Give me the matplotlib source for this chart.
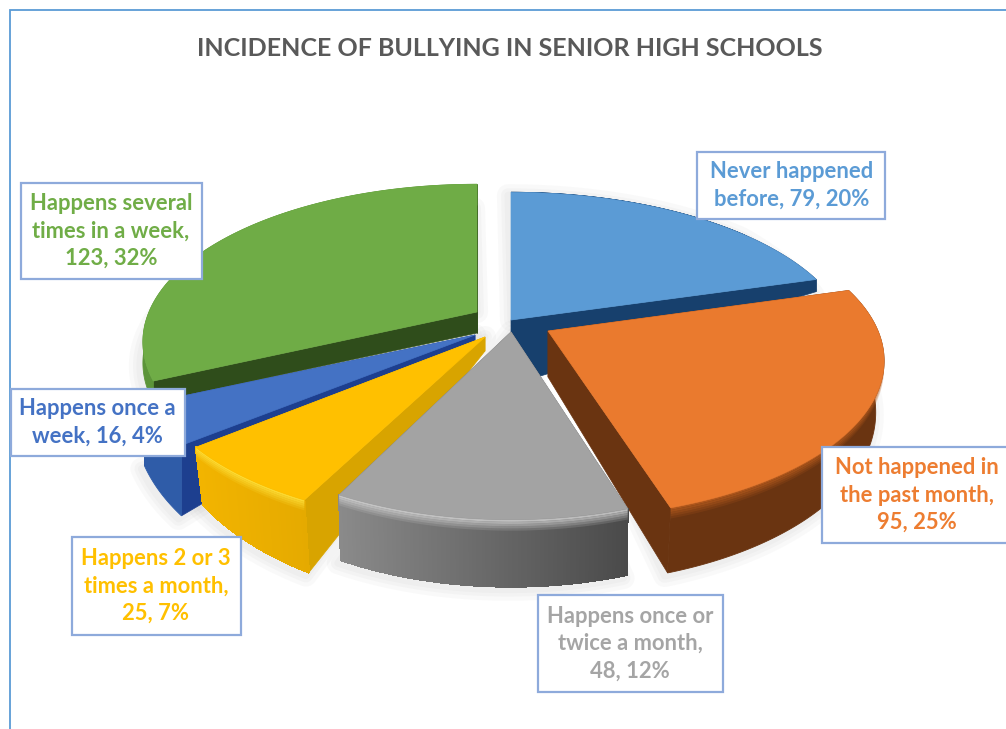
import numpy as np
import matplotlib
matplotlib.use("Agg")
import matplotlib.pyplot as plt
from matplotlib.colors import to_rgb
from matplotlib.patches import Polygon, Rectangle

# Survey results, in clockwise order from twelve o'clock
categories = ["Never happened before", "Not happened in the past month",
              "Happens once or twice a month", "Happens 2 or 3 times a month",
              "Happens once a week", "Happens several times in a week"]
counts = [79, 95, 48, 25, 16, 123]
percents = [20, 25, 12, 7, 4, 32]
label_templates = ["Never happened\nbefore, {}, {}%",
                   "Not happened in\nthe past month,\n{}, {}%",
                   "Happens once or\ntwice a month,\n{}, {}%",
                   "Happens 2 or 3\ntimes a month,\n{}, {}%",
                   "Happens once a\nweek, {}, {}%",
                   "Happens several\ntimes in a week,\n{}, {}%"]
title = "INCIDENCE OF BULLYING IN SENIOR HIGH SCHOOLS"

plt.rcParams["font.family"] = ["Lato", "DejaVu Sans"]

# Per-slice styling: exploded apex, horizontal radius, wall depth terms
styles = [
    dict(apex=(511, 320), a=335, d0=22, d1=35, apex_depth=65, taper=1.0,
         top="#5b9bd5", side="#17406d", wall=("#17406d", "#17406d"),
         rim=None, text="#5b9bd5"),
    dict(apex=(548, 331), a=330, d0=48, d1=18, apex_depth=46, taper=0.975,
         top="#ea7a2e", side="#6a3411", wall=("#6a3411", "#6a3411"),
         rim="#b95c1d", text="#ed7d31"),
    dict(apex=(511, 332), a=314, d0=50, d1=17, apex_depth=50, taper=0.99,
         top="#a3a3a3", side="#666666", wall=("#8a8a8a", "#4a4a4a"),
         rim="#d0d0d0", text="#a5a5a5"),
    dict(apex=(485, 337), a=330, d0=20, d1=59, apex_depth=14, taper=0.975,
         top="#ffc000", side="#d8a400", wall=("#f2b400", "#e5aa00"),
         rim="#ffe23c", text="#ffc000"),
    dict(apex=(475, 335), a=335, d0=45, d1=40, apex_depth=8, taper=1.0,
         top="#4472c4", side="#1d3f8f", wall=("#2f5ca8", "#2f5ca8"),
         rim=None, text="#4472c4"),
    dict(apex=(477, 312), a=328, d0=21, d1=0, apex_depth=21, taper=1.0,
         top="#6fac46", side="#2f4d1b", wall=("#5c9439", "#5c9439"),
         rim=None, text="#70ad47"),
]
label_boxes = [(697, 152, 885, 219), (822, 447, 1012, 543), (538, 595, 723, 692),
               (72, 537, 241, 635), (11, 389, 185, 456), (21, 183, 202, 279)]
label_centers = [(792, 185.5), (917, 495), (630, 643.5),
                 (156, 586), (97, 422.5), (111, 231)]
draw_order = [5, 0, 4, 1, 3, 2]

B, K = 152.0, 0.19
fractions = np.array(counts, float) / sum(counts)
edges = np.concatenate([[0], np.cumsum(fractions)]) * 2 * np.pi

fig = plt.figure(figsize=(10.06, 7.29), dpi=100)
ax = fig.add_axes([0, 0, 1, 1])
ax.set_xlim(0, 1006)
ax.set_ylim(729, 0)
ax.axis("off")


def rim_point(style, theta):
    """Project a point on a slice's rim onto the tilted pie plane."""
    x, y = np.sin(theta), -np.cos(theta)
    w = 1 - K * y
    return style["apex"][0] + x * style["a"] / w, style["apex"][1] + y * B / w, y


def lower(style, px, py, y):
    """Matching point on the underside of the slice."""
    depth = np.maximum(style["d0"] + style["d1"] * y, 0)
    return style["apex"][0] + (px - style["apex"][0]) * style["taper"], py + depth


def mix(c1, c2, t):
    return tuple((1 - t) * np.array(to_rgb(c1)) + t * np.array(to_rgb(c2)))


# Soft drop shadow under the whole pie
for i in range(6):
    st = styles[i]
    th = np.linspace(edges[i], edges[i + 1], 80)
    px, py, y = rim_point(st, th)
    bx, by = lower(st, px, py, y)
    pts = np.vstack([st["apex"], np.c_[bx - 3, by + 3]])
    for lw in (16, 10, 5):
        ax.add_patch(Polygon(pts, closed=True, fc="none", ec="#555555",
                             lw=lw, alpha=0.03, joinstyle="round", zorder=1))

# Slices drawn from back to front
for n, i in enumerate(draw_order):
    st = styles[i]
    z = 2 + n
    th = np.linspace(edges[i], edges[i + 1], 160)
    px, py, y = rim_point(st, th)
    bx, by = lower(st, px, py, y)
    ax0, ay0 = st["apex"]
    aby = ay0 + st["apex_depth"]

    # Cut faces on either side of the slice
    for k in (0, -1):
        ax.add_patch(Polygon([(ax0, ay0), (px[k], py[k]), (bx[k], by[k]), (ax0, aby)],
                             closed=True, fc=st["side"], ec=st["side"], lw=0.5, zorder=z))

    # Outer wall: a solid base, then narrow strips shaded from left to right
    ax.add_patch(Polygon(np.vstack([np.c_[px, py], np.c_[bx, by][::-1]]), closed=True,
                         fc=mix(*st["wall"], 0.5), ec=mix(*st["wall"], 0.5), lw=0.6, zorder=z))
    if st["wall"][0] != st["wall"][1]:
        span = max(px.max() - px.min(), 1)
        for j in range(len(th) - 1):
            col = mix(st["wall"][0], st["wall"][1], (px[j] - px.min()) / span)
            ax.add_patch(Polygon([(px[j], py[j]), (px[j + 1], py[j + 1]),
                                  (bx[j + 1], by[j + 1]), (bx[j], by[j])],
                                 closed=True, fc=col, ec=col, lw=0.8,
                                 antialiased=False, zorder=z))

    # Bevel highlight just under the top edge
    if st["rim"]:
        bands = 5
        for b in range(bands):
            f0, f1 = b / bands, (b + 1) / bands
            h = 11 * (y + 1.2) / 2.2
            upper = np.c_[px, py + h * f0]
            low = np.c_[px, py + h * f1]
            ax.add_patch(Polygon(np.vstack([upper, low[::-1]]), closed=True,
                                 fc=st["rim"], ec="none", alpha=0.85 * (1 - f0), zorder=z))

    # Top face
    ax.add_patch(Polygon(np.vstack([st["apex"], np.c_[px, py]]), closed=True,
                         fc=st["top"], ec=st["top"], lw=0.5, zorder=z))

# Chart frame: only the top and left edges are in view
ax.plot([10, 10, 1006], [729, 10, 10], color="#5b9bd5", lw=1.3, zorder=20,
        solid_joinstyle="miter")

ax.text(510, 48, title, ha="center", va="center", fontsize=18.0,
        fontweight="bold", color="#595959", zorder=21)

# Data labels in white boxes
for i, st in enumerate(styles):
    x0, y0, x1, y1 = label_boxes[i]
    ax.add_patch(Rectangle((x0, y0), x1 - x0, y1 - y0, fc="white", ec="#8eaadb",
                           lw=1.6, zorder=22))
    ax.text(*label_centers[i], label_templates[i].format(counts[i], percents[i]),
            ha="center", va="center", fontsize=15.8, fontweight="bold",
            color=st["text"], linespacing=1.38, zorder=23)

fig.savefig("out.png", dpi=100, facecolor="white")
